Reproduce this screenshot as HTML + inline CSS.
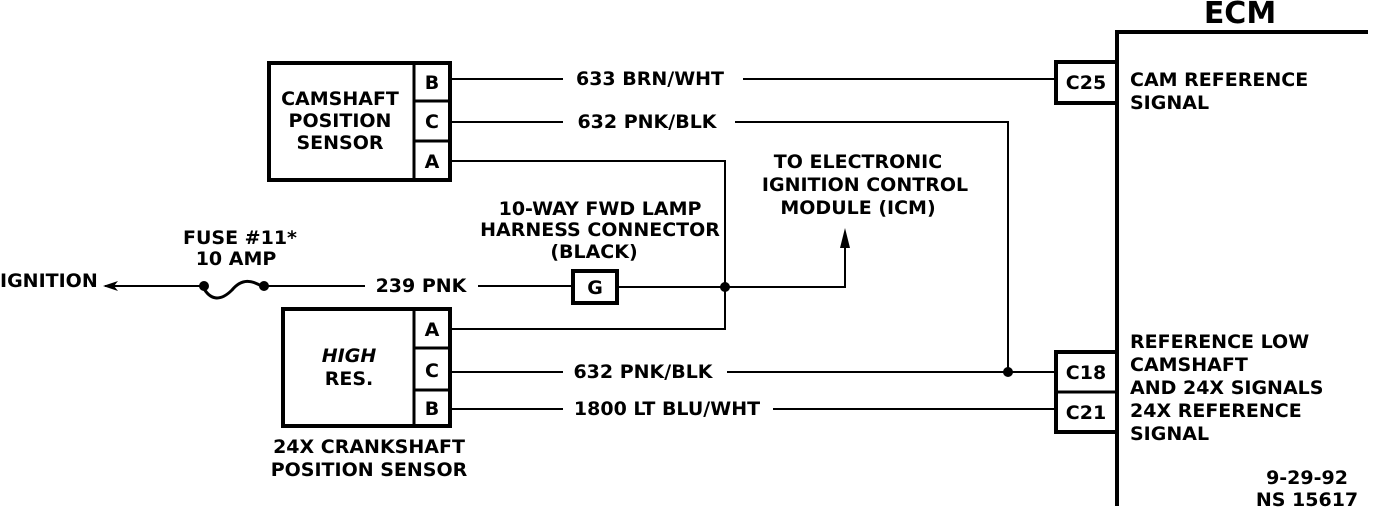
<!DOCTYPE html>
<html><head><style>
html,body{margin:0;padding:0;background:#fff;}
svg{display:block;}
text{font-family:"DejaVu Sans","Liberation Sans",sans-serif;font-weight:bold;font-size:19px;fill:#000;}
</style></head><body>
<svg width="1376" height="514" viewBox="0 0 1376 514" xmlns="http://www.w3.org/2000/svg">
<g fill="none" stroke="#000">
<rect x="269" y="63" width="181" height="117" stroke-width="4"/>
<line x1="414" y1="63" x2="414" y2="180" stroke-width="3"/>
<line x1="414" y1="101" x2="450" y2="101" stroke-width="3"/>
<line x1="414" y1="141" x2="450" y2="141" stroke-width="3"/>
<rect x="283" y="309" width="167" height="117" stroke-width="4"/>
<line x1="414" y1="309" x2="414" y2="426" stroke-width="3"/>
<line x1="414" y1="348" x2="450" y2="348" stroke-width="3"/>
<line x1="414" y1="390" x2="450" y2="390" stroke-width="3"/>
<g stroke-width="2">
<line x1="450" y1="79" x2="563" y2="79"/><line x1="743" y1="79" x2="1056" y2="79"/>
<line x1="450" y1="122" x2="563" y2="122"/><polyline points="735,122 1008,122 1008,372"/>
<polyline points="450,161 725,161 725,329 450,329"/>
<line x1="105" y1="286" x2="200" y2="286"/>
<line x1="265" y1="286" x2="365" y2="286"/><line x1="478" y1="286" x2="572" y2="286"/>
<polyline points="617,287 845,287 845,245"/>
<line x1="450" y1="372" x2="563" y2="372"/><line x1="727" y1="372" x2="1056" y2="372"/>
<line x1="450" y1="409" x2="563" y2="409"/><line x1="773" y1="409" x2="1056" y2="409"/>
</g>
<path d="M203,287 C210,300 220,302 232,290 C242,278 252,280 263,287" stroke-width="3"/>
<rect x="573" y="271" width="44" height="32" stroke-width="4"/>
<line x1="1117" y1="30" x2="1117" y2="506" stroke-width="4"/>
<line x1="1117" y1="32" x2="1368" y2="32" stroke-width="4"/>
<rect x="1056" y="62" width="61" height="41" stroke-width="4"/>
<rect x="1056" y="352" width="61" height="80" stroke-width="4"/>
<line x1="1056" y1="392" x2="1117" y2="392" stroke-width="3"/>
</g>
<g fill="#000">
<circle cx="204" cy="286" r="5"/><circle cx="264" cy="286" r="5"/>
<circle cx="725" cy="287" r="5"/><circle cx="1008" cy="372" r="5"/>
<polygon points="845,228 840,248 850,248"/>
<polygon points="103,286 118,281 114,286 118,291"/>
</g>
<text x="340" y="105" text-anchor="middle">CAMSHAFT</text>
<text x="340" y="127" text-anchor="middle">POSITION</text>
<text x="340" y="149" text-anchor="middle">SENSOR</text>
<text x="432" y="89" text-anchor="middle">B</text>
<text x="432" y="128" text-anchor="middle">C</text>
<text x="432" y="168" text-anchor="middle">A</text>
<text x="432" y="336" text-anchor="middle">A</text>
<text x="432" y="377" text-anchor="middle">C</text>
<text x="432" y="415" text-anchor="middle">B</text>
<text x="349" y="362" text-anchor="middle" style="font-style:italic">HIGH</text>
<text x="349" y="385" text-anchor="middle">RES.</text>
<text x="369" y="453" text-anchor="middle">24X CRANKSHAFT</text>
<text x="369" y="476" text-anchor="middle">POSITION SENSOR</text>
<text x="650" y="85" text-anchor="middle">633 BRN/WHT</text>
<text x="647" y="128" text-anchor="middle">632 PNK/BLK</text>
<text x="643" y="378" text-anchor="middle">632 PNK/BLK</text>
<text x="667" y="415" text-anchor="middle">1800 LT BLU/WHT</text>
<text x="421" y="292" text-anchor="middle">239 PNK</text>
<text x="595" y="294" text-anchor="middle">G</text>
<text x="600" y="215" text-anchor="middle">10-WAY FWD LAMP</text>
<text x="600" y="236" text-anchor="middle">HARNESS CONNECTOR</text>
<text x="594" y="258" text-anchor="middle">(BLACK)</text>
<text x="858" y="168" text-anchor="middle">TO ELECTRONIC</text>
<text x="865" y="191" text-anchor="middle">IGNITION CONTROL</text>
<text x="858" y="214" text-anchor="middle">MODULE (ICM)</text>
<text x="240" y="244" text-anchor="middle">FUSE #11*</text>
<text x="236" y="265" text-anchor="middle">10 AMP</text>
<text x="0" y="287">IGNITION</text>
<text x="1086" y="89" text-anchor="middle">C25</text>
<text x="1086" y="379" text-anchor="middle">C18</text>
<text x="1086" y="419" text-anchor="middle">C21</text>
<text x="1130" y="86">CAM REFERENCE</text>
<text x="1130" y="109">SIGNAL</text>
<text x="1130" y="348">REFERENCE LOW</text>
<text x="1130" y="371">CAMSHAFT</text>
<text x="1130" y="394">AND 24X SIGNALS</text>
<text x="1130" y="417">24X REFERENCE</text>
<text x="1130" y="440">SIGNAL</text>
<text x="1240" y="23" text-anchor="middle" style="font-size:30px">ECM</text>
<text x="1307" y="484" text-anchor="middle">9-29-92</text>
<text x="1307" y="506" text-anchor="middle">NS 15617</text>
</svg>
</body></html>
